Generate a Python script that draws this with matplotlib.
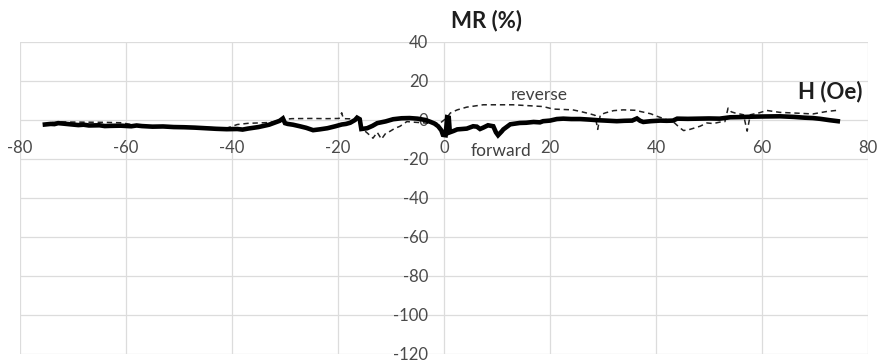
import matplotlib
matplotlib.use("Agg")
import matplotlib.pyplot as plt
import numpy as np

plt.rcParams['font.family'] = ['Lato', 'DejaVu Sans']

# Field sweep H (Oe) and magnetoresistance MR (%) for both sweep directions
h_forward = [-75.3, -74.2, -73.5, -72.8, -72.0, -70.5, -69.0, -68.0, -67.0, -65.0,
             -64.0, -63.0, -61.0, -59.0, -58.0, -57.0, -55.0, -53.0, -51.0, -49.0,
             -47.0, -45.0, -43.0, -41.0, -39.0, -38.0, -37.0, -35.0, -34.0, -33.0,
             -32.0, -31.0, -30.4, -30.0, -29.5, -28.5, -27.2, -26.0, -24.7, -23.5,
             -22.0, -20.5, -19.3, -18.5, -17.7, -16.8, -16.4, -15.9, -15.6, -14.5,
             -13.5, -12.6, -11.0, -9.6, -8.0, -6.5, -5.0, -3.5, -2.6, -1.8,
             -1.1, -0.5, -0.2, 0.3, 0.6, 0.9, 1.1, 1.8, 2.5, 3.4,
             4.3, 5.5, 6.2, 6.8, 7.4, 8.3, 9.3, 9.8, 10.2, 10.9,
             11.2, 12.5, 14.3, 15.5, 16.9, 18.1, 18.7, 20.0, 21.3, 22.5,
             24.0, 25.7, 27.5, 29.0, 30.5, 32.6, 34.0, 35.5, 36.4, 37.0,
             37.6, 39.0, 40.8, 42.0, 43.2, 44.0, 46.0, 48.0, 50.0, 52.0,
             54.0, 56.0, 58.0, 60.0, 63.4, 66.0, 68.0, 69.6, 71.0, 72.8,
             74.3]
mr_forward = [-2.5, -2.2, -2.3, -1.8, -2.0, -2.4, -2.8, -2.6, -3.0, -2.9,
              -3.3, -3.2, -3.1, -3.4, -3.0, -3.3, -3.6, -3.5, -3.8, -3.9,
              -4.1, -4.4, -4.7, -4.9, -4.8, -5.1, -4.6, -3.8, -3.2, -2.6,
              -1.6, -0.6, 0.6, -1.8, -2.2, -2.6, -3.4, -4.2, -5.4, -5.0,
              -4.4, -3.4, -2.5, -2.2, -1.6, -0.2, 1.0, 0.2, -4.8, -4.4,
              -3.2, -1.8, -0.9, 0.2, 0.7, 0.8, 0.5, -0.2, -1.1, -2.0,
              -3.4, -5.5, -7.8, -8.0, 1.2, 1.0, -6.5, -5.8, -5.0, -4.8,
              -4.6, -3.4, -3.6, -4.8, -4.1, -2.9, -3.4, -6.5, -8.0, -6.0,
              -5.0, -2.4, -1.7, -1.6, -1.2, -1.4, -0.8, -0.5, 0.3, 0.5,
              0.3, 0.3, 0.0, -0.3, -0.5, -0.8, -0.6, -0.5, 0.6, -0.6,
              -1.2, -0.8, -0.5, -0.6, -0.5, 0.5, 0.4, 0.5, 0.6, 0.5,
              1.2, 1.3, 1.5, 1.6, 1.7, 1.4, 1.0, 0.8, 0.4, -0.3,
              -0.8]

h_reverse = [-74.0, -72.0, -68.0, -64.0, -61.0, -58.0, -55.0, -50.0, -45.0, -41.0,
             -39.0, -37.0, -35.0, -33.0, -31.0, -29.5, -28.7, -25.0, -22.0, -19.8,
             -19.3, -19.0, -17.5, -16.2, -15.5, -14.5, -13.4, -12.6, -11.8, -11.0,
             -10.2, -9.3, -8.3, -7.0, -5.8, -4.0, -2.6, -0.7, 0.5, 1.2,
             2.5, 4.3, 7.4, 13.0, 18.7, 20.6, 24.3, 25.7, 27.5, 28.5,
             29.0, 29.5, 30.5, 32.0, 33.8, 36.0, 37.0, 39.0, 40.2, 42.0,
             43.5, 44.5, 45.2, 46.4, 48.3, 49.6, 50.8, 52.0, 53.0, 53.6,
             54.2, 54.9, 56.5, 57.2, 57.8, 59.5, 60.9, 63.4, 66.0, 69.6,
             72.3, 74.0]
mr_reverse = [-1.5, -1.2, -1.3, -1.4, -1.6, -2.9, -3.3, -3.6, -4.0, -4.4,
              -2.5, -1.9, -1.7, -1.5, -0.5, 0.3, 0.5, 0.6, 0.5, 0.6,
              3.5, 0.5, 0.4, 0.2, -4.5, -6.8, -9.5, -6.5, -10.0, -7.0,
              -6.0, -4.5, -3.4, -1.0, -1.3, -1.6, -2.0, -1.7, 0.8, 3.4,
              5.0, 6.4, 7.6, 7.6, 6.7, 5.4, 5.0, 4.2, 3.0, 2.2,
              -5.0, 2.5, 3.5, 4.6, 5.0, 4.8, 4.2, 3.0, 1.7, 0.0,
              -1.7, -4.2, -5.6, -5.0, -3.4, -1.7, -2.0, -1.3, -1.0, 5.9,
              4.0, 3.4, 2.5, -5.9, 2.5, 3.5, 4.7, 3.7, 3.4, 2.9,
              4.2, 4.7]

x_ticks = [-80, -60, -40, -20, 0, 20, 40, 60, 80]
y_ticks = [-120, -100, -80, -60, -40, -20, 0, 20, 40]

W, H = 881, 363
fig = plt.figure(figsize=(W / 100, H / 100), dpi=100)
ax = fig.add_axes([20 / W, 1 - 354 / H, 848 / W, (354 - 41.5) / H])

ax.set_xlim(x_ticks[0], x_ticks[-1])
ax.set_ylim(y_ticks[0], y_ticks[-1])
ax.set_xticks(x_ticks)
ax.set_yticks(y_ticks)
ax.grid(True, color='#dcdcdc', linewidth=0.9, zorder=0)
ax.set_axisbelow(True)

# axes cross at the origin; spine lines themselves are hidden (grid shows them)
for side in ['top', 'right']:
    ax.spines[side].set_visible(False)
ax.spines['left'].set_position(('data', 0))
ax.spines['bottom'].set_position(('data', 0))
ax.spines['left'].set_color('none')
ax.spines['bottom'].set_color('none')
ax.tick_params(axis='both', length=0, labelsize=12, labelcolor='#4a4a4a')
ax.tick_params(axis='y', pad=11.5)
ax.tick_params(axis='x', pad=15)
ax.set_xticklabels([str(v) for v in x_ticks])
ax.set_yticklabels([str(v) for v in y_ticks])

ax.plot(h_reverse, mr_reverse, color='#222222', linewidth=1.1,
        linestyle=(0, (3.5, 2.5)), zorder=3)
ax.plot(h_forward, mr_forward, color='black', linewidth=3.3, zorder=4,
        solid_joinstyle='miter')

ax.text(17.9, 12.8, 'reverse', fontsize=12.5, color='#404040',
        ha='center', va='center')
ax.text(10.7, -15.9, 'forward', fontsize=12.5, color='#404040',
        ha='center', va='center')

fig.text(487 / W, 1 - 21 / H, 'MR (%)', fontsize=16, fontweight='bold',
         color='#1e1e1e', ha='center', va='center')
fig.text(830 / W, 1 - 92 / H, 'H (Oe)', fontsize=16, fontweight='bold',
         color='#1e1e1e', ha='center', va='center')

fig.savefig('out.png', dpi=100, facecolor='white')
